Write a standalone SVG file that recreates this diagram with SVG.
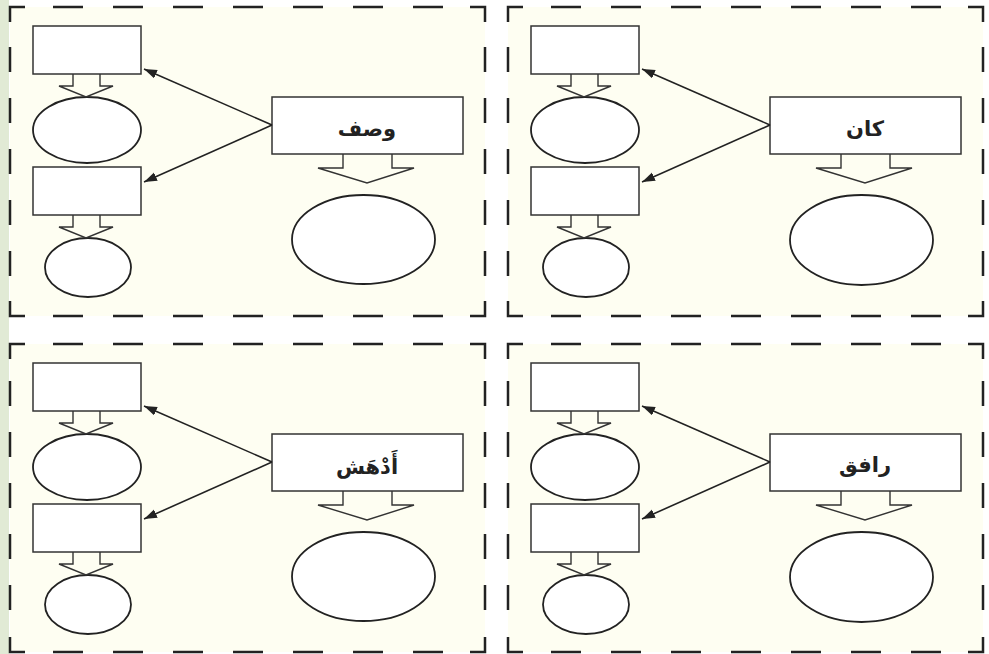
<svg xmlns="http://www.w3.org/2000/svg" width="989" height="654" viewBox="0 0 989 654">
<style>
.bg{fill:#fefef2;stroke:none}
.bd{fill:none;stroke:#222;stroke-width:2.5}
.dh{fill:none;stroke:#222;stroke-width:2.5;stroke-dasharray:30 30}
.dv{fill:none;stroke:#222;stroke-width:2.5;stroke-dasharray:25 26}
.box{fill:#fff;stroke:#333;stroke-width:1.5}
.ell{fill:#fff;stroke:#222;stroke-width:1.8}
.ha{fill:none;stroke:#333;stroke-width:1.4;stroke-linejoin:miter}
.ar{fill:none;stroke:#222;stroke-width:1.6}
.lbl{font-family:"DejaVu Sans",sans-serif;font-size:21px;font-weight:bold;fill:#222;text-anchor:middle}
</style>
<defs>
<marker id="ah" markerUnits="userSpaceOnUse" markerWidth="14" markerHeight="10" refX="13" refY="4.5" orient="auto">
<path d="M0,0 L13,4.5 L0,9 z" fill="#222"/>
</marker>
</defs>
<rect x="0" y="0" width="989" height="654" fill="#ffffff"/>
<rect x="0" y="0" width="9" height="654" fill="#e1ead5"/>

<g id="panel-1">
<g id="frame-1">
<rect class="bg" x="10" y="7" width="475" height="309"/>
<path class="bd" d="M10,22 V7 H25 M470,7 H485 V22 M485,301 V316 H470 M25,316 H10 V301"/>
<path class="dh" d="M53,7 H443 M53,316 H443"/>
<path class="dv" d="M10,47 V276 M485,47 V276"/>
</g>
<g id="main-1"><rect class="box" x="272" y="97" width="191" height="57"/><text class="lbl" x="367" y="136">وصف</text></g>
<g id="main-ellipse-1"><ellipse class="ell" cx="363.5" cy="239.5" rx="71.5" ry="44.5"/></g>
<g id="box-1a"><rect class="box" x="33" y="26" width="108" height="48"/></g>
<g id="ellipse-1a"><ellipse class="ell" cx="87" cy="130" rx="54" ry="33"/></g>
<g id="box-1b"><rect class="box" x="33" y="167" width="108" height="48"/></g>
<g id="ellipse-1b"><ellipse class="ell" cx="88" cy="267.5" rx="43" ry="29.5"/></g>
<g id="connectors-1">
<path class="ha" d="M343,154 V168 H318 L367,183 L414,168 H392 V154"/>
<path class="ha" d="M73,74 V86 H59 L86,97 L113,86 H100 V74"/>
<path class="ha" d="M73,215 V227 H59 L86,238 L113,227 H100 V215"/>
<path class="ar" d="M272,125 L144,69" marker-end="url(#ah)"/>
<path class="ar" d="M272,125 L144,182" marker-end="url(#ah)"/>
</g>
</g>

<g id="panel-2" transform="translate(498,0)">
<g id="frame-2">
<rect class="bg" x="10" y="7" width="475" height="309"/>
<path class="bd" d="M10,22 V7 H25 M470,7 H485 V22 M485,301 V316 H470 M25,316 H10 V301"/>
<path class="dh" d="M53,7 H443 M53,316 H443"/>
<path class="dv" d="M10,47 V276 M485,47 V276"/>
</g>
<g id="main-2"><rect class="box" x="272" y="97" width="191" height="57"/><text class="lbl" x="367" y="136">كان</text></g>
<g id="main-ellipse-2"><ellipse class="ell" cx="363.5" cy="240" rx="71.5" ry="45"/></g>
<g id="box-2a"><rect class="box" x="33" y="26" width="108" height="48"/></g>
<g id="ellipse-2a"><ellipse class="ell" cx="87" cy="130" rx="54" ry="33"/></g>
<g id="box-2b"><rect class="box" x="33" y="167" width="108" height="48"/></g>
<g id="ellipse-2b"><ellipse class="ell" cx="88" cy="267.5" rx="43" ry="29.5"/></g>
<g id="connectors-2">
<path class="ha" d="M343,154 V168 H318 L367,183 L414,168 H392 V154"/>
<path class="ha" d="M73,74 V86 H59 L86,97 L113,86 H100 V74"/>
<path class="ha" d="M73,215 V227 H59 L86,238 L113,227 H100 V215"/>
<path class="ar" d="M272,125 L144,69" marker-end="url(#ah)"/>
<path class="ar" d="M272,125 L144,182" marker-end="url(#ah)"/>
</g>
</g>

<g id="panel-3" transform="translate(0,337)">
<g id="frame-3">
<rect class="bg" x="10" y="7" width="475" height="308"/>
<path class="bd" d="M10,22 V7 H25 M470,7 H485 V22 M485,300 V315 H470 M25,315 H10 V300"/>
<path class="dh" d="M53,7 H443 M53,315 H443"/>
<path class="dv" d="M10,44 V273 M485,44 V273"/>
</g>
<g id="main-3"><rect class="box" x="272" y="97" width="191" height="57"/><text class="lbl" x="367" y="137">أَدْهَش</text></g>
<g id="main-ellipse-3"><ellipse class="ell" cx="363.5" cy="239.5" rx="71.5" ry="44.5"/></g>
<g id="box-3a"><rect class="box" x="33" y="26" width="108" height="48"/></g>
<g id="ellipse-3a"><ellipse class="ell" cx="87" cy="130" rx="54" ry="33"/></g>
<g id="box-3b"><rect class="box" x="33" y="167" width="108" height="48"/></g>
<g id="ellipse-3b"><ellipse class="ell" cx="88" cy="267.5" rx="43" ry="29.5"/></g>
<g id="connectors-3">
<path class="ha" d="M343,154 V168 H318 L367,183 L414,168 H392 V154"/>
<path class="ha" d="M73,74 V86 H59 L86,97 L113,86 H100 V74"/>
<path class="ha" d="M73,215 V227 H59 L86,238 L113,227 H100 V215"/>
<path class="ar" d="M272,125 L144,69" marker-end="url(#ah)"/>
<path class="ar" d="M272,125 L144,182" marker-end="url(#ah)"/>
</g>
</g>

<g id="panel-4" transform="translate(498,337)">
<g id="frame-4">
<rect class="bg" x="10" y="7" width="475" height="308"/>
<path class="bd" d="M10,22 V7 H25 M470,7 H485 V22 M485,300 V315 H470 M25,315 H10 V300"/>
<path class="dh" d="M53,7 H443 M53,315 H443"/>
<path class="dv" d="M10,44 V273 M485,44 V273"/>
</g>
<g id="main-4"><rect class="box" x="272" y="97" width="191" height="57"/><text class="lbl" x="367" y="135">رافق</text></g>
<g id="main-ellipse-4"><ellipse class="ell" cx="363.5" cy="240" rx="71.5" ry="45"/></g>
<g id="box-4a"><rect class="box" x="33" y="26" width="108" height="48"/></g>
<g id="ellipse-4a"><ellipse class="ell" cx="87" cy="130" rx="54" ry="33"/></g>
<g id="box-4b"><rect class="box" x="33" y="167" width="108" height="48"/></g>
<g id="ellipse-4b"><ellipse class="ell" cx="88" cy="267.5" rx="43" ry="29.5"/></g>
<g id="connectors-4">
<path class="ha" d="M343,154 V168 H318 L367,183 L414,168 H392 V154"/>
<path class="ha" d="M73,74 V86 H59 L86,97 L113,86 H100 V74"/>
<path class="ha" d="M73,215 V227 H59 L86,238 L113,227 H100 V215"/>
<path class="ar" d="M272,125 L144,69" marker-end="url(#ah)"/>
<path class="ar" d="M272,125 L144,182" marker-end="url(#ah)"/>
</g>
</g>
</svg>
